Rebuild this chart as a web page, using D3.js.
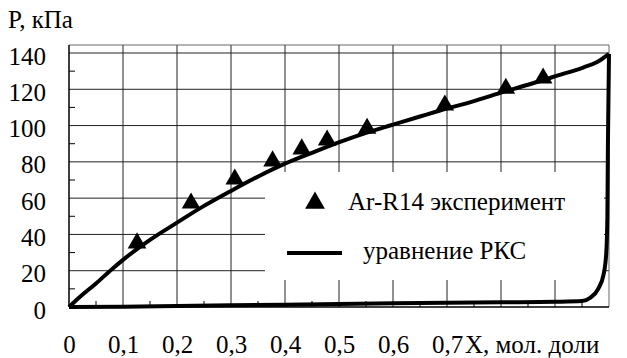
<!DOCTYPE html>
<html lang="ru">
<head>
<meta charset="UTF-8">
<title>Ar-R14 chart</title>
<style>
  body { margin: 0; background: #fff; font-family: "Liberation Serif", serif; }
</style>
</head>
<body>
<svg id="chart" font-family="Liberation Serif"></svg>
<script src="https://d3js.org/d3.v7.min.js"></script>
<script>
// experiment points (Ar-R14)
const expX = [0.126, 0.226, 0.307, 0.377, 0.431, 0.478, 0.552, 0.696, 0.809, 0.878];
const expP = [35.8, 57.8, 71, 81, 87.6, 92.5, 99, 111.8, 121, 126.7];

// PKC equation, upper branch
const upperX = [0, 0.02, 0.05, 0.08, 0.1, 0.15, 0.2, 0.243, 0.3, 0.354, 0.4, 0.45, 0.502, 0.55, 0.6, 0.65, 0.687, 0.75, 0.793, 0.85, 0.904, 0.952, 0.978, 1.0];
const upperP = [0, 5.5, 13, 21, 26, 37, 46.5, 54.5, 64, 72.5, 79, 85, 91, 96, 100.5, 105, 108.3, 113.5, 117.5, 122.5, 127.5, 132, 135, 139.5];

// PKC equation, lower branch
const lowerX = [0, 0.1, 0.2, 0.3, 0.4, 0.5, 0.6, 0.7, 0.8, 0.9, 0.95, 0.965, 0.98, 0.99, 0.995, 0.997, 0.998, 1.0];
const lowerP = [0, 0.2, 0.5, 0.9, 1.3, 1.7, 2.0, 2.3, 2.6, 2.9, 3.3, 5, 10, 18, 30, 50, 90, 139.5];

const yTicks = [0, 20, 40, 60, 80, 100, 120, 140];
const xTicks = [0, 0.1, 0.2, 0.3, 0.4, 0.5, 0.6, 0.7];

const FONT = "Liberation Serif";
const width = 627, height = 358;
const svg = d3.select("#chart").attr("width", width).attr("height", height);

const x = d3.scaleLinear().domain([0, 1]).range([69, 609]);
const y = d3.scaleLinear().domain([0, 140]).range([307, 53]);
const plotTop = 45;

// grid
svg.append("g").selectAll("line")
    .data(d3.range(0.1, 0.95, 0.1))
    .join("line")
    .attr("x1", d => x(d)).attr("x2", d => x(d))
    .attr("y1", y(0)).attr("y2", plotTop)
    .attr("stroke", "#222").attr("stroke-width", 1);

svg.append("g").selectAll("line")
    .data(yTicks.slice(1))
    .join("line")
    .attr("x1", x(0)).attr("x2", x(1))
    .attr("y1", d => y(d)).attr("y2", d => y(d))
    .attr("stroke", "#222").attr("stroke-width", 1);

// frame
svg.append("path")
    .attr("d", `M${x(0)},${plotTop}H${x(1)}V${y(0)}`)
    .attr("fill", "none").attr("stroke", "#666").attr("stroke-width", 1);

// minor ticks
svg.append("g").selectAll("line")
    .data(d3.range(10, 140, 20))
    .join("line")
    .attr("x1", x(0)).attr("x2", x(0) + 6)
    .attr("y1", d => y(d)).attr("y2", d => y(d))
    .attr("stroke", "#000");

svg.append("g").selectAll("line")
    .data(d3.range(0.05, 1, 0.1))
    .join("line")
    .attr("x1", d => x(d)).attr("x2", d => x(d))
    .attr("y1", y(0)).attr("y2", y(0) - 6)
    .attr("stroke", "#000");

// legend box (covers grid)
svg.append("rect")
    .attr("x", 265).attr("y", 172)
    .attr("width", 339).attr("height", 108)
    .attr("fill", "#fff");

// axes lines
svg.append("line")
    .attr("x1", x(0)).attr("x2", x(0))
    .attr("y1", plotTop).attr("y2", y(0))
    .attr("stroke", "#000").attr("stroke-width", 1.5);
svg.append("line")
    .attr("x1", x(0)).attr("x2", x(1))
    .attr("y1", y(0)).attr("y2", y(0))
    .attr("stroke", "#000").attr("stroke-width", 1.5);

// curves
const line = d3.line()
    .x(d => x(d[0])).y(d => y(d[1]))
    .curve(d3.curveMonotoneX);

svg.append("path")
    .attr("d", line(d3.zip(upperX, upperP)))
    .attr("fill", "none").attr("stroke", "#000")
    .attr("stroke-width", 4).attr("stroke-linejoin", "round");

svg.append("path")
    .attr("d", line(d3.zip(lowerX, lowerP)))
    .attr("fill", "none").attr("stroke", "#000")
    .attr("stroke-width", 4).attr("stroke-linejoin", "round");

// experiment markers
const tri = d3.symbol().type(d3.symbolTriangle).size(150);
svg.append("g").selectAll("path")
    .data(d3.zip(expX, expP))
    .join("path")
    .attr("transform", d => `translate(${x(d[0])},${y(d[1]) + 1})`)
    .attr("d", tri)
    .attr("fill", "#000");

// y axis labels
const yAxis = svg.append("g")
    .attr("transform", `translate(${x(0)},0)`)
    .call(d3.axisLeft(y).tickValues(yTicks).tickSize(0).tickPadding(23))
    .attr("font-family", FONT).attr("font-size", 25);
yAxis.select(".domain").remove();
yAxis.selectAll("line").remove();
yAxis.selectAll("text")
    .attr("dy", "0.44em")
    .attr("font-family", FONT)
    .attr("fill", "#000");

// x axis labels
const fmt = d => d === 0 ? "0" : d3.format(".1f")(d).replace(".", ",");
const xAxis = svg.append("g")
    .attr("transform", `translate(0,${y(0)})`)
    .call(d3.axisBottom(x).tickValues(xTicks).tickFormat(fmt).tickSize(0))
    .attr("font-family", FONT).attr("font-size", 25);
xAxis.select(".domain").remove();
xAxis.selectAll("line").remove();
xAxis.selectAll("text")
    .attr("y", 46).attr("dy", 0)
    .attr("font-family", FONT)
    .attr("fill", "#000");

const label = (tx, ty, s) => svg.append("text")
    .attr("x", tx).attr("y", ty)
    .attr("font-family", FONT)
    .attr("font-size", 25)
    .text(s);

label(8, 28, "P, кПа");
label(465, 353, "X, мол. доли");

// legend
svg.append("path")
    .attr("transform", "translate(315,203)")
    .attr("d", d3.symbol().type(d3.symbolTriangle).size(170))
    .attr("fill", "#000");
label(348, 210, "Ar-R14 эксперимент");

svg.append("line")
    .attr("x1", 287).attr("x2", 342)
    .attr("y1", 253).attr("y2", 253)
    .attr("stroke", "#000").attr("stroke-width", 4);
label(363, 259, "уравнение РКС");
</script>
</body>
</html>
